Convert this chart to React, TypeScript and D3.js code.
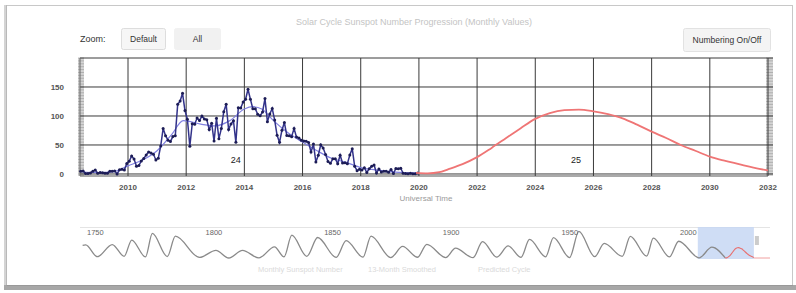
import * as d3 from 'd3'

// monthly sunspot numbers, cycle 24 (first value = May 2008)
const monthlyStart = 2008 + 4 / 12
const monthly = [
  4.8, 5.2, 0.8, 0.8, 1.8, 4.8, 6.8, 1.3,
  2.5, 2.3, 1.2, 1.3, 4.8, 4.8, 5.3, 0.0, 7.2, 8.0, 6.8, 18.0,
  21.8, 31.0, 25.7, 13.2, 14.7, 22.5, 26.8, 32.7, 38.0, 36.2, 34.0, 24.2,
  27.3, 48.3, 78.6, 66.1, 58.2, 56.1, 64.5, 65.8, 120.1, 125.7, 139.1, 109.3,
  94.4, 47.8, 86.6, 85.9, 96.5, 92.0, 100.1, 94.8, 93.7, 76.5, 87.6, 56.8,
  96.1, 60.9, 78.3, 107.3, 120.2, 76.7, 86.2, 91.8, 54.5, 114.4, 113.9, 124.2,
  128.8, 146.1, 128.7, 112.5, 112.5, 102.9, 100.2, 106.9, 130.0, 90.0, 103.6, 112.9,
  93.0, 66.7, 54.5, 75.3, 88.8, 66.5, 65.8, 64.4, 78.6, 63.6, 62.2, 58.0,
  57.0, 56.4, 54.1, 37.9, 51.5, 20.5, 32.4, 50.2, 44.6, 33.4, 21.4, 18.5,
  26.1, 26.4, 17.7, 32.3, 18.9, 19.2, 17.8, 32.6, 43.7, 13.2, 5.7, 8.2,
  6.8, 10.7, 2.5, 8.9, 13.1, 15.6, 1.6, 8.7, 3.3, 4.9, 4.9, 3.1,
  7.7, 0.8, 9.4, 9.1, 9.9, 1.2, 0.9, 0.5, 1.1, 0.4, 0.5, 1.5,
]

// 13-month smoothed
const smoothYears = [2008.4, 2009.0, 2009.5, 2010.0, 2010.5, 2011.0, 2011.5, 2011.9, 2012.5, 2013.0, 2013.5, 2014.0, 2014.3, 2014.6, 2015.0, 2015.5, 2016.0, 2016.5, 2017.0, 2017.5, 2018.0, 2018.5, 2019.0, 2019.5, 2019.9]
const smoothVals = [3.8, 2.2, 4.0, 14, 24, 40, 68, 92, 86, 83, 92, 112, 116, 112, 92, 71, 55, 40, 27, 20, 11, 7, 4, 2.5, 1.8]

// cycle 25 prediction
const predYears = [2019.9, 2020.3, 2020.7, 2021, 2021.5, 2022, 2022.5, 2023, 2023.5, 2024, 2024.5, 2025, 2025.5, 2026, 2026.5, 2027, 2027.5, 2028, 2028.5, 2029, 2029.5, 2030, 2030.5, 2031, 2031.5, 2032]
const predVals = [1.8, 1.0, 3, 8, 17, 29, 45, 62, 79, 95, 105, 110, 111, 108, 103, 96, 85, 73, 62, 50, 40, 30, 23, 17, 11, 6]

// navigator: smoothed cycle extrema since 1749
const navYears = [1749, 1750.3, 1755.2, 1761.5, 1766.5, 1769.7, 1775.5, 1778.4, 1784.7, 1788.1, 1798.3, 1805.2, 1810.6, 1816.4, 1823.3, 1829.9, 1833.9, 1837.2, 1843.5, 1848.1, 1855.9, 1860.1, 1867.2, 1870.6, 1878.9, 1883.9, 1890.2, 1894.1, 1902.1, 1906.2, 1913.6, 1917.6, 1923.6, 1928.4, 1933.8, 1937.4, 1944.2, 1947.5, 1954.3, 1958.2, 1964.9, 1968.9, 1976.5, 1979.9, 1986.8, 1989.6, 1996.4, 2000.3, 2008.9, 2014.3, 2019.9]
const navVals = [135, 140, 14, 144, 18, 193, 12, 264, 16, 235, 6, 82, 0, 81, 2, 119, 12, 245, 18, 220, 6, 186, 9, 234, 4, 124, 8, 147, 4, 107, 3, 176, 9, 130, 6, 199, 13, 219, 5, 285, 14, 157, 18, 233, 20, 213, 12, 180, 2, 116, 2]

const xTicks = [2010, 2012, 2014, 2016, 2018, 2020, 2022, 2024, 2026, 2028, 2030, 2032]
const yTicks = [0, 50, 100, 150]
const navTicks = [1750, 1800, 1850, 1900, 1950, 2000]
const cycleLabels = [{ year: 2013.7, label: '24' }, { year: 2025.4, label: '25' }]
const legendItems = ['Monthly Sunspot Number', '13-Month Smoothed', 'Predicted Cycle']

const font = 'Liberation Sans, Arial, sans-serif'

export default function App() {
  const W = 796
  const H = 293
  const left = 80
  const right = 768
  const top = 58
  const bottom = 176

  const x = d3.scaleLinear().domain([2008.35, 2032]).range([left, right])
  const y = d3.scaleLinear().domain([-3.5, 200]).range([bottom, top])

  const monthlyPts: [number, number][] = monthly.map((v, i) => [monthlyStart + (i + 0.5) / 12, v])
  const line = d3
    .line<[number, number]>()
    .x((d) => x(d[0]))
    .y((d) => y(d[1]))
  const smoothLine = d3
    .line<[number, number]>()
    .x((d) => x(d[0]))
    .y((d) => y(d[1]))
    .curve(d3.curveMonotoneX)
  const smoothPts: [number, number][] = smoothYears.map((t, i) => [t, smoothVals[i]])
  const predPts: [number, number][] = predYears.map((t, i) => [t, predVals[i]])

  // navigator
  const nx = d3.scaleLinear().domain([1750, 2000]).range([85, 678])
  const ny = d3.scaleLinear().domain([0, 290]).range([258, 231])
  const navLine = d3
    .line<[number, number]>()
    .x((d) => nx(d[0]))
    .y((d) => ny(d[1]))
    .curve(d3.curveMonotoneX)
  const navPts: [number, number][] = navYears.map((t, i) => [t, navVals[i]])

  const minorTicks = y.ticks(40).filter((t) => t >= -3 && t <= 200)

  return (
    <svg width={W} height={H} style={{ position: 'absolute', left: 0, top: 0, fontFamily: font }}>
      <rect x={0} y={0} width={W} height={H} fill="#fff" />
      {/* card frame */}
      <rect x={6.5} y={5.5} width={786} height={280} fill="#fff" stroke="#c8c8c8" />
      <rect x={4} y={285} width={792} height={5} fill="#8a8a8a" opacity={0.75} />
      <rect x={4} y={5} width={3} height={282} fill="#aaa" opacity={0.5} />

      {/* title */}
      <text x={414} y={25} textAnchor="middle" fontSize={9} fill="#c4c4c4">
        Solar Cycle Sunspot Number Progression (Monthly Values)
      </text>

      {/* buttons */}
      <text x={80} y={42} fontSize={9} fill="#333">Zoom:</text>
      <rect x={121.5} y={28.5} width={44} height={21} fill="#f6f6f6" stroke="#ddd" rx={2} />
      <text x={143.5} y={42} textAnchor="middle" fontSize={8.5} fill="#333">Default</text>
      <rect x={174.5} y={28.5} width={46} height={21} fill="#f1f1f1" stroke="#f1f1f1" rx={2} />
      <text x={197.5} y={42} textAnchor="middle" fontSize={8.5} fill="#333">All</text>
      <rect x={683.5} y={28.5} width={87} height={23} fill="#f4f4f4" stroke="#e2e2e2" rx={2} />
      <text x={727} y={43} textAnchor="middle" fontSize={8.5} fill="#333">Numbering On/Off</text>

      {/* side strips with minor ticks */}
      <rect x={78} y={top} width={6} height={bottom - top} fill="#d4d4d4" />
      <rect x={766} y={top} width={7} height={bottom - top} fill="#d4d4d4" />
      {minorTicks.map((t) => (
        <g key={'m' + t}>
          <line x1={78} x2={84} y1={y(t)} y2={y(t)} stroke="#999" strokeWidth={0.6} />
          <line x1={766} x2={773} y1={y(t)} y2={y(t)} stroke="#999" strokeWidth={0.6} />
        </g>
      ))}

      {/* grid */}
      {yTicks.concat([200]).map((t) => (
        <line key={'h' + t} x1={left} x2={right + 5} y1={y(t)} y2={y(t)} stroke="#3a3a3a" strokeWidth={1} />
      ))}
      <line x1={left} x2={right} y1={bottom} y2={bottom} stroke="#555" strokeWidth={1} />
      {xTicks.map((t) => (
        <line key={'v' + t} x1={x(t)} x2={x(t)} y1={top} y2={bottom} stroke="#3a3a3a" strokeWidth={1} />
      ))}
      <line x1={left} x2={left} y1={top} y2={bottom} stroke="#666" strokeWidth={1} />

      {/* axis labels */}
      {yTicks.map((t) => (
        <text key={'yl' + t} x={64} y={y(t) + 3} textAnchor="end" fontSize={8} fontWeight="bold" fill="#555">
          {t}
        </text>
      ))}
      {xTicks.map((t) => (
        <text key={'xl' + t} x={x(t)} y={190} textAnchor="middle" fontSize={8} fontWeight="bold" fill="#555">
          {t}
        </text>
      ))}
      <text x={426} y={201} textAnchor="middle" fontSize={8} fill="#9a9a9a">Universal Time</text>

      {/* series */}
      <path d={smoothLine(smoothPts) ?? ''} fill="none" stroke="#8080e0" strokeWidth={1.2} />
      <path d={line(monthlyPts) ?? ''} fill="none" stroke="#33338a" strokeWidth={1.5} />
      {monthlyPts.map((d, i) => (
        <circle key={'p' + i} cx={x(d[0])} cy={y(d[1])} r={1.5} fill="#1c1c55" />
      ))}
      <path d={smoothLine(predPts) ?? ''} fill="none" stroke="#ef7575" strokeWidth={1.8} />

      {cycleLabels.map((c) => (
        <text key={c.label} x={x(c.year)} y={163} textAnchor="middle" fontSize={9} fill="#222">
          {c.label}
        </text>
      ))}

      {/* navigator */}
      <line x1={80} x2={770} y1={227.5} y2={227.5} stroke="#e4e4e4" />
      <rect x={nx(2008.35)} y={227} width={nx(2032) - nx(2008.35)} height={32} fill="#c7d7f3" opacity={0.85} />
      <path d={navLine(navPts) ?? ''} fill="none" stroke="#8a8a8a" strokeWidth={1.3} />
      <path d={navLine(predPts) ?? ''} fill="none" stroke="#e87070" strokeWidth={1.1} />
      <line x1={nx(2032)} x2={770} y1={258} y2={258} stroke="#f0a0a0" strokeWidth={1} />
      <rect x={nx(2032) + 1} y={236} width={4} height={9} fill="#ccc" />
      {navTicks.map((t) => (
        <text key={'n' + t} x={nx(t) + 2} y={235} fontSize={7.5} fill="#666">
          {t}
        </text>
      ))}

      {/* legend */}
      {legendItems.map((l, i) => (
        <text key={l} x={258 + i * 110} y={272} fontSize={7.5} fill="#dadada">
          {l}
        </text>
      ))}
    </svg>
  )
}
